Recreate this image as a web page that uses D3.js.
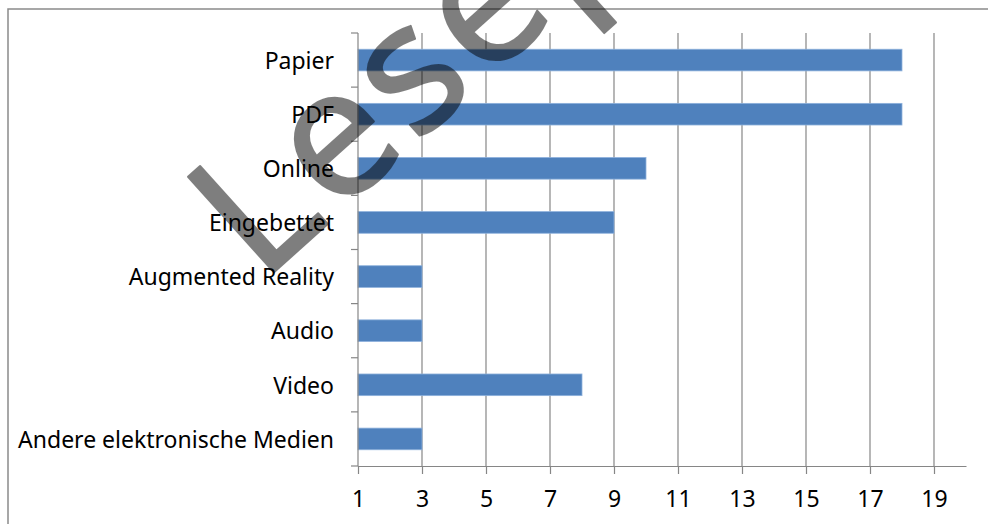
<!DOCTYPE html>
<html>
<head>
<meta charset="utf-8">
<script src="https://cdn.jsdelivr.net/npm/d3@7"></script>
<style>
  body { margin: 0; background: #fff; }
  svg { display: block; font-family: "Noto Sans", sans-serif; }
</style>
</head>
<body>
<svg id="chart" width="988" height="524"></svg>
<script>
// data
const categories = ['Papier', 'PDF', 'Online', 'Eingebettet', 'Augmented Reality', 'Audio', 'Video', 'Andere elektronische Medien'];
const values = [18, 18, 10, 9, 3, 3, 8, 3];
const xTicks = [1, 3, 5, 7, 9, 11, 13, 15, 17, 19];
const watermark = 'Leseprobe';

const svg = d3.select('#chart'),
  width = +svg.attr('width'),
  height = +svg.attr('height');

const margin = { left: 358, top: 33, right: 22, bottom: 58 };
const axisColor = '#868686';

// outer frame
svg.append('rect')
  .attr('x', 8).attr('y', 9)
  .attr('width', 1200).attr('height', 800)
  .attr('fill', 'none')
  .attr('stroke', '#8a8a8a')
  .attr('stroke-width', 1.5);

const x = d3.scaleLinear()
  .domain([1, 20])
  .range([margin.left, width - margin.right]);

const y = d3.scaleBand()
  .domain(categories)
  .range([margin.top, height - margin.bottom])
  .paddingInner(0.6)
  .paddingOuter(0.3);

const plotBottom = height - margin.bottom;

// vertical gridlines
svg.append('g')
  .selectAll('line')
  .data(xTicks.slice(1))
  .enter().append('line')
    .attr('x1', d => x(d)).attr('x2', d => x(d))
    .attr('y1', margin.top).attr('y2', plotBottom)
    .attr('stroke', axisColor)
    .attr('stroke-width', 1.2);

// bars
svg.append('g')
  .selectAll('rect')
  .data(categories)
  .enter().append('rect')
    .attr('x', x(1))
    .attr('y', d => y(d))
    .attr('width', (d, i) => x(values[i]) - x(1))
    .attr('height', y.bandwidth())
    .attr('fill', '#4f81bd')
    .attr('stroke', '#8eb1dc')
    .attr('stroke-width', 0.8);

// x axis
const xAxis = svg.append('g')
  .attr('transform', `translate(0,${plotBottom})`)
  .call(d3.axisBottom(x).tickValues(xTicks).tickSize(8).tickPadding(17).tickSizeOuter(0));
xAxis.select('.domain').attr('stroke', axisColor).attr('stroke-width', 1.2);
xAxis.selectAll('.tick line').attr('stroke', axisColor).attr('stroke-width', 1.2);
xAxis.selectAll('.tick text')
  .attr('fill', '#000')
  .style('font-size', '23px')
  .style('font-family', '"Noto Sans", sans-serif');

// y axis: ticks sit at band boundaries
const yAxis = svg.append('g')
  .attr('transform', `translate(${margin.left},0)`);
yAxis.append('line')
  .attr('x1', 0).attr('x2', 0)
  .attr('y1', margin.top).attr('y2', plotBottom)
  .attr('stroke', axisColor).attr('stroke-width', 1.2);
const step = y.step();
const bounds = d3.range(categories.length + 1).map(i => margin.top + i * step);
yAxis.selectAll('line.tk')
  .data(bounds)
  .enter().append('line')
    .attr('class', 'tk')
    .attr('x1', -7).attr('x2', 0)
    .attr('y1', d => d).attr('y2', d => d)
    .attr('stroke', axisColor).attr('stroke-width', 1.2);
yAxis.selectAll('text')
  .data(categories)
  .enter().append('text')
    .attr('x', -24)
    .attr('y', d => y(d) + y.bandwidth() / 2)
    .attr('dy', '0.38em')
    .attr('text-anchor', 'end')
    .style('font-size', '23px')
    .attr('fill', '#000')
    .text(d => d);

// watermark (half transparent, over everything)
svg.append('g')
  .attr('opacity', 0.5)
  .append('text')
    .attr('transform', 'translate(261,284) rotate(-42)')
    .style('font-family', '"Noto Sans", sans-serif')
    .style('font-size', '180px')
    .style('letter-spacing', '6px')
    .attr('fill', '#000')
    .attr('stroke', '#000')
    .attr('stroke-width', 2)
    .attr('stroke-linejoin', 'round')
    .text(watermark);
</script>
</body>
</html>
